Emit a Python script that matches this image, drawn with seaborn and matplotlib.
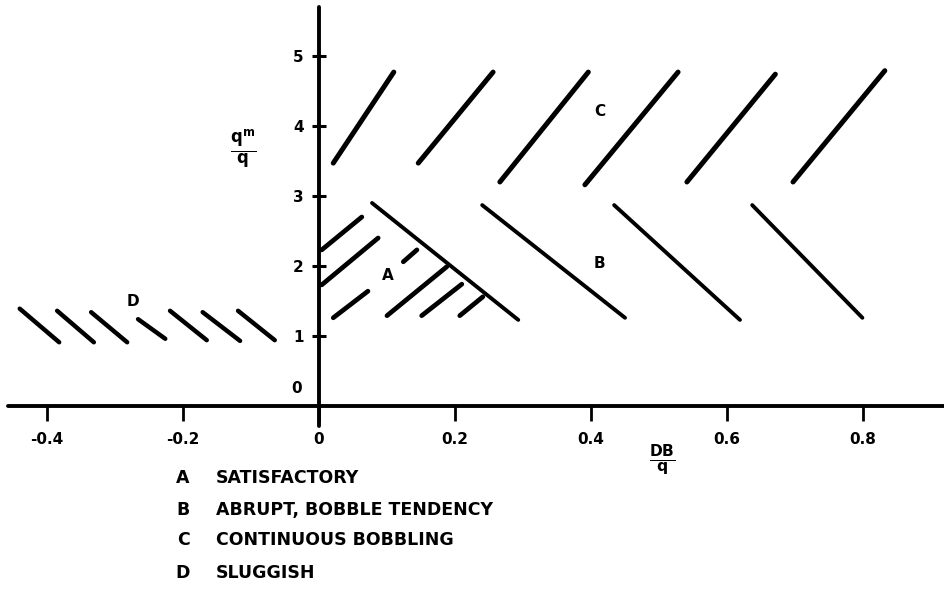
import numpy as np
import pandas as pd
import matplotlib.pyplot as plt
import seaborn as sns

# segment end points (x = DB/q, y = q_m/q)
# region A - satisfactory, "/" hatch
a_x0 = [0.004, 0.004, 0.021, 0.124, 0.100, 0.151, 0.207]
a_y0 = [2.23, 1.73, 1.26, 2.06, 1.29, 1.29, 1.29]
a_x1 = [0.063, 0.087, 0.072, 0.144, 0.188, 0.210, 0.241]
a_y1 = [2.70, 2.40, 1.64, 2.23, 1.99, 1.74, 1.56]

# region B - abrupt, bobble tendency, "\" hatch
b_x0 = [0.078, 0.240, 0.434, 0.637]
b_y0 = [2.90, 2.87, 2.87, 2.87]
b_x1 = [0.293, 0.450, 0.619, 0.799]
b_y1 = [1.23, 1.26, 1.23, 1.26]

# region C - continuous bobbling, "/" hatch
c_x0 = [0.021, 0.146, 0.266, 0.391, 0.541, 0.697]
c_y0 = [3.47, 3.47, 3.20, 3.16, 3.20, 3.20]
c_x1 = [0.110, 0.256, 0.396, 0.528, 0.671, 0.832]
c_y1 = [4.77, 4.77, 4.77, 4.77, 4.74, 4.79]

# region D - sluggish, "\" hatch
d_x0 = [-0.440, -0.385, -0.335, -0.266, -0.219, -0.171, -0.119]
d_y0 = [1.39, 1.36, 1.34, 1.24, 1.36, 1.34, 1.36]
d_x1 = [-0.382, -0.331, -0.282, -0.226, -0.165, -0.116, -0.065]
d_y1 = [0.91, 0.91, 0.91, 0.96, 0.94, 0.93, 0.94]

region_letters = ['A', 'B', 'C', 'D']
region_label_x = [0.101, 0.413, 0.413, -0.274]
region_label_y = [1.86, 2.04, 4.20, 1.49]
region_names = ['SATISFACTORY', 'ABRUPT, BOBBLE TENDENCY',
                'CONTINUOUS BOBBLING', 'SLUGGISH']

x_ticks = [-0.4, -0.2, 0, 0.2, 0.4, 0.6, 0.8]
x_tick_labels = ['-0.4', '-0.2', '0', '0.2', '0.4', '0.6', '0.8']
y_ticks = [1, 2, 3, 4, 5]


def segs(x0, y0, x1, y1):
    n = len(x0)
    return pd.DataFrame({'x': x0 + x1, 'y': y0 + y1,
                         'seg': list(range(n)) * 2})


sns.set_theme(style='white')
plt.rcParams['font.family'] = ['DejaVu Sans']
plt.rcParams['text.color'] = 'black'
plt.rcParams['xtick.color'] = 'black'
plt.rcParams['ytick.color'] = 'black'

fig = plt.figure(figsize=(9.44, 5.90), dpi=100)
ax = fig.add_axes([0, 0, 1, 1])

for (x0, y0, x1, y1), lw in [((a_x0, a_y0, a_x1, a_y1), 3.4),
                             ((b_x0, b_y0, b_x1, b_y1), 2.8),
                             ((c_x0, c_y0, c_x1, c_y1), 3.6),
                             ((d_x0, d_y0, d_x1, d_y1), 3.2)]:
    sns.lineplot(data=segs(x0, y0, x1, y1), x='x', y='y', units='seg',
                 estimator=None, sort=False, color='black', lw=lw,
                 solid_capstyle='round', legend=False, ax=ax)

ax.set_xlim(-0.469, 0.919)
ax.set_ylim(-2.629, 5.8)
ax.set_xlabel('')
ax.set_ylabel('')

# axes through the origin
for side in ['top', 'right']:
    ax.spines[side].set_visible(False)
ax.spines['left'].set_position(('data', 0))
ax.spines['bottom'].set_position(('data', 0))
ax.spines['left'].set_bounds(-0.28, 5.7)
ax.spines['bottom'].set_bounds(-0.457, 0.919)
for side in ['left', 'bottom']:
    ax.spines[side].set_linewidth(2.8)
    ax.spines[side].set_color('black')
    ax.spines[side].set_capstyle('round')

ax.set_xticks(x_ticks)
ax.set_xticklabels(x_tick_labels, fontsize=11, fontweight='bold')
ax.set_yticks(y_ticks)
ax.set_yticklabels([str(v) for v in y_ticks], fontsize=11, fontweight='bold')
ax.tick_params(axis='x', direction='out', length=11, width=2, pad=8,
               bottom=True)
ax.tick_params(axis='y', direction='inout', length=10, width=2.2, pad=6,
               left=True)
ax.text(-0.033, 0.25, '0', fontsize=11, fontweight='bold',
        ha='center', va='center')

# axis titles
ax.text(0.505, -0.78, r'$\frac{\mathbf{DB}}{\mathbf{q}}$', fontsize=16,
        ha='center', va='center')
ax.text(-0.112, 3.66, r'$\frac{\mathbf{q}^{\mathbf{m}}}{\mathbf{q}}$',
        fontsize=17, ha='center', va='center')

for letter, lx, ly in zip(region_letters, region_label_x, region_label_y):
    ax.text(lx, ly, letter, fontsize=11, fontweight='bold',
            ha='center', va='center')

# key below the chart
key_y = [478, 510, 540, 573]
for letter, name, py in zip(region_letters, region_names, key_y):
    fig.text(183 / 944, 1 - py / 590, letter, fontsize=12.5,
             fontweight='bold', ha='center', va='center')
    fig.text(216 / 944, 1 - py / 590, name, fontsize=12.5,
             fontweight='bold', ha='left', va='center')

fig.savefig('out.png', dpi=100, facecolor='white')
